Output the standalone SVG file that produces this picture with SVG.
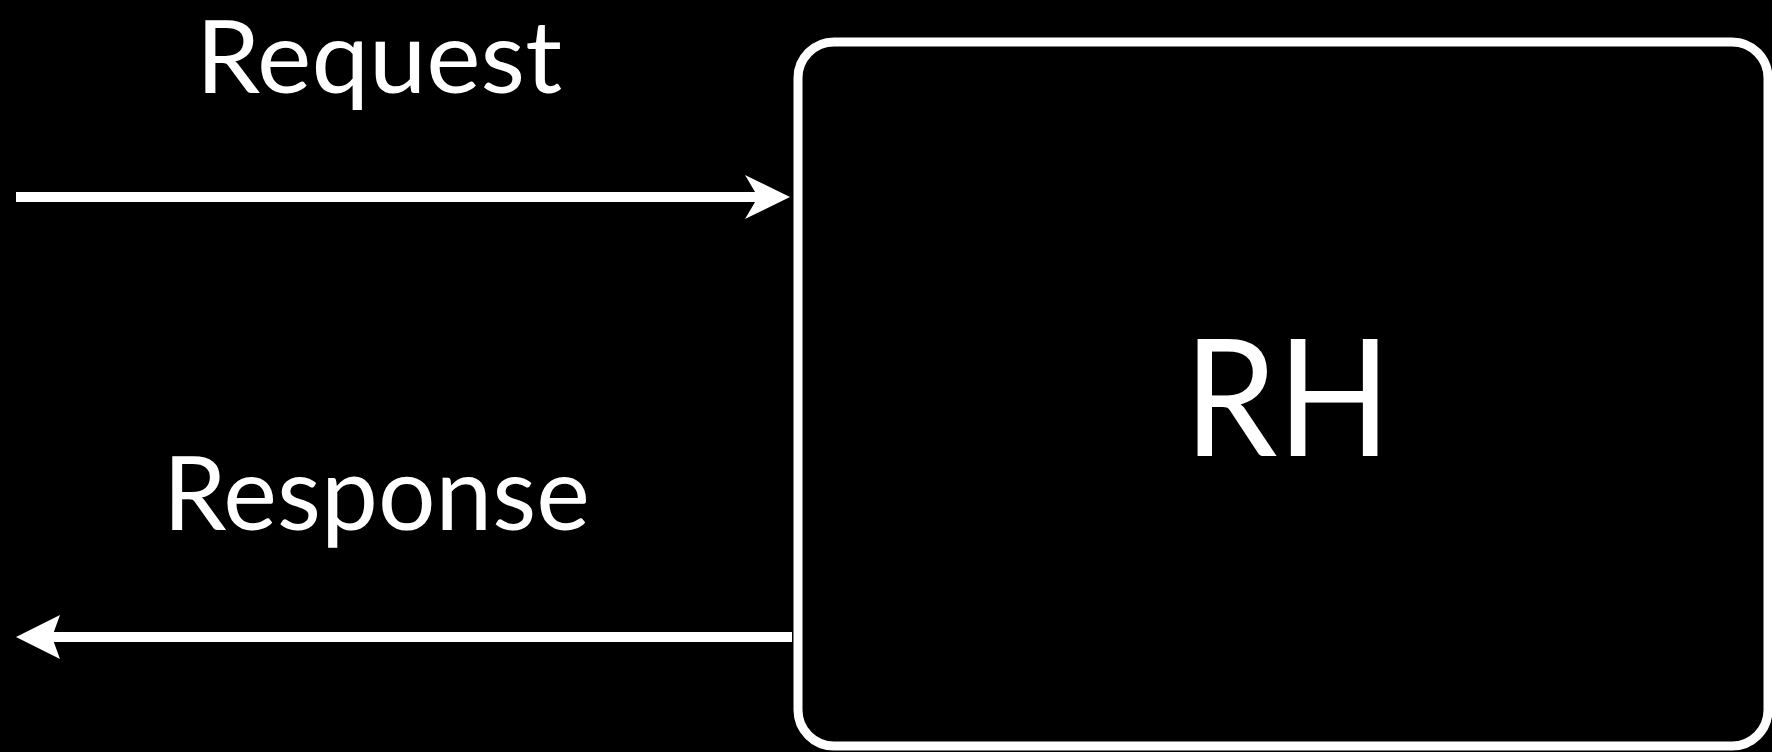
<svg xmlns="http://www.w3.org/2000/svg" width="1772" height="752" viewBox="0 0 1772 752">
<style>
.lbl{font-family:"Lato","Open Sans","Liberation Sans",sans-serif;fill:#fff;}
.conn{stroke:#fff;stroke-width:10;fill:none;}
.head{fill:#fff;}
</style>
<rect x="0" y="0" width="1772" height="752" fill="#000"/>
<g id="node-rh">
<rect x="798" y="42" width="970" height="704" rx="36" ry="36" fill="#000" stroke="#fff" stroke-width="9"/>
<text class="lbl" x="1184" y="456" font-size="163" textLength="207" lengthAdjust="spacingAndGlyphs">RH</text>
</g>
<g id="label-request">
<text class="lbl" x="196" y="93" font-size="100" textLength="366" lengthAdjust="spacingAndGlyphs">Request</text>
</g>
<g id="label-response">
<text class="lbl" x="163" y="530" font-size="102" textLength="427" lengthAdjust="spacingAndGlyphs">Response</text>
</g>
<g id="connectors">
<line class="conn" x1="16" y1="197" x2="760" y2="197"/>
<polygon class="head" points="790,197 745,175 758,197 745,219"/>
<line class="conn" x1="50" y1="637" x2="792" y2="637"/>
<polygon class="head" points="16,637 60,615 52,637 60,659"/>
</g>
</svg>
